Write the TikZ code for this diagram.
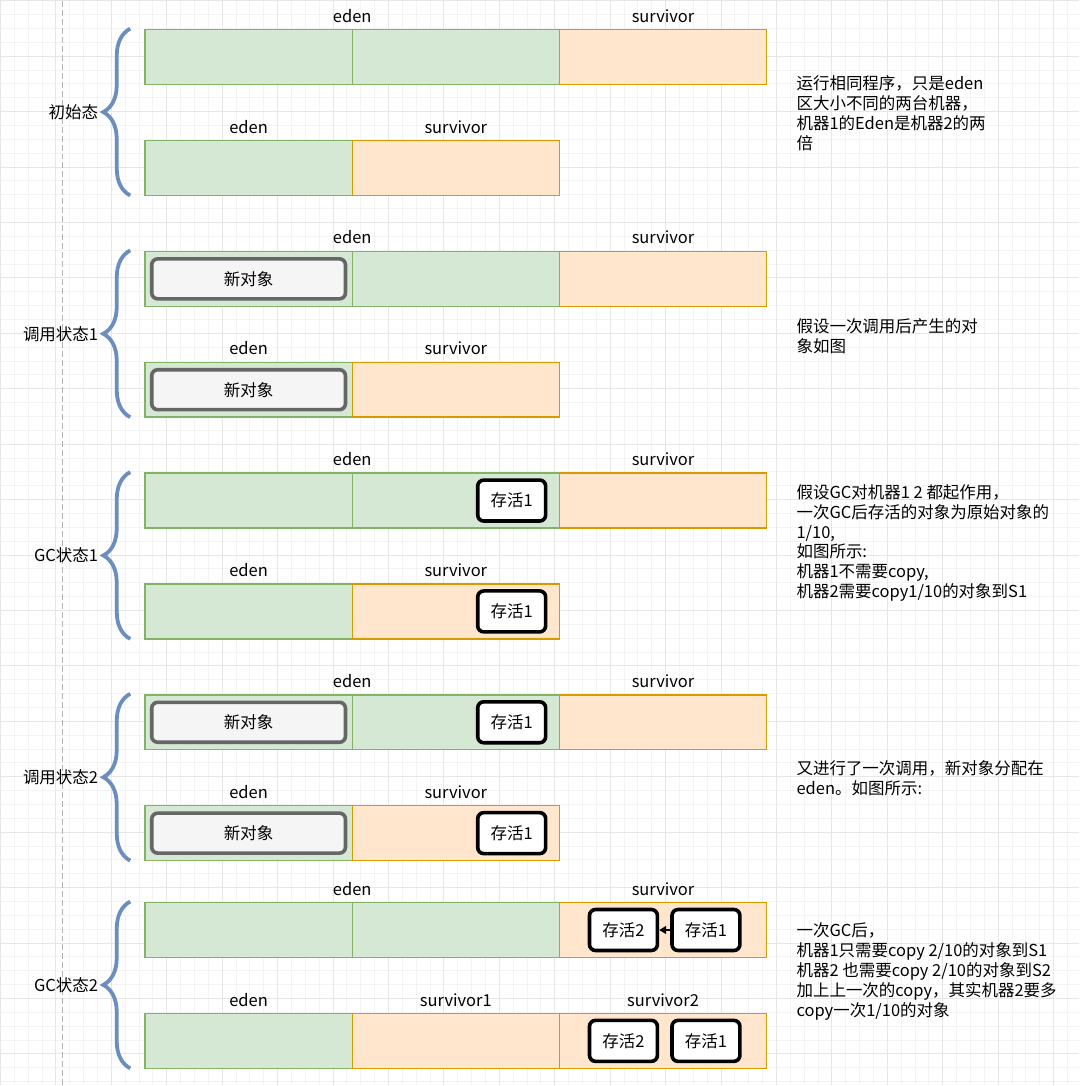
\documentclass[tikz,border=0pt]{standalone}
\usepackage{fontspec}
\setmainfont{Noto Sans CJK SC}
\usetikzlibrary{positioning,arrows.meta,decorations.pathreplacing}

\definecolor{edenfill}{HTML}{D5E8D4}
\definecolor{edenline}{HTML}{82B366}
\definecolor{survfill}{HTML}{FFE6CC}
\definecolor{survline}{HTML}{D79B00}
\definecolor{bracecol}{HTML}{6C8EBF}
\definecolor{objfill}{HTML}{F5F5F5}
\definecolor{objline}{HTML}{666666}
\definecolor{gridminor}{HTML}{F3F3F3}
\definecolor{gridmajor}{HTML}{E6E6E6}

\tikzset{
  cell/.style={draw, line width=1.4pt, minimum width=207.5pt, minimum height=55pt, inner sep=0pt, outer sep=0pt},
  eden/.style={cell, fill=edenfill, draw=edenline},
  surv/.style={cell, fill=survfill, draw=survline},
  newobj/.style={draw=objline, fill=objfill, line width=3.6pt, rounded corners=6pt, minimum width=194pt, minimum height=40pt, inner sep=0pt},
  alive/.style={draw=black, fill=white, line width=3.6pt, rounded corners=6pt, minimum width=68pt, minimum height=41pt, inner sep=0pt},
  lbl/.style={inner sep=0pt},
  brace/.style={draw=bracecol, line width=3.8pt, decorate, decoration={brace, amplitude=27pt}},
  note/.style={anchor=west, align=left, inner sep=0pt}
}

\begin{document}
\begin{tikzpicture}[x=1pt, y=-1pt, font=\fontsize{16.5}{20}\selectfont]
  \fill[white] (0,0) rectangle (1080,1086);
  \draw[gridminor, line width=0.8pt, step=13.875pt] (0,0) grid (1080,1086);
  \draw[gridmajor, line width=0.8pt, step=55.5pt] (0,0) grid (1080,1086);
  \draw[gray!60, line width=1.4pt, dash pattern=on 6pt off 3pt] (62,0) -- (62,1086);
  \useasboundingbox (0,0) rectangle (1080,1086);

  \foreach \g/\y/\sname/\state in {1/29/survivor/初始态, 2/251/survivor/调用状态1, 3/473/survivor/GC状态1, 4/695/survivor/调用状态2, 5/903/survivor1/GC状态2}{
    % machine 1
    \node[eden] (g\g-ta) at (248.5,\y+27.5) {};
    \node[eden] (g\g-tb) at (456,\y+27.5) {};
    \node[surv] (g\g-ts) at (663.5,\y+27.5) {};
    \node[lbl, above=7pt of g\g-ta.north east] (g\g-tl1) {eden};
    \node[lbl, above=7pt of g\g-ts.north] (g\g-tl2) {survivor};
    % machine 2
    \node[eden] (g\g-ba) at (248.5,\y+138.5) {};
    \node[surv] (g\g-bs) at (456,\y+138.5) {};
    \node[lbl, above=7pt of g\g-ba.north] (g\g-bl1) {eden};
    \node[lbl, above=7pt of g\g-bs.north] (g\g-bl2) {\sname};
    % brace + state
    \draw[brace] (130,\y+166) -- (130,\y-1);
    \coordinate (tip\g) at (103,\y+82.5);
    \node[lbl, left=5pt of tip\g] (st\g) {\state};
  }

  % objects
  \node[newobj] (g2-new1) at (g2-ta) {新对象};
  \node[newobj] (g2-new2) at (g2-ba) {新对象};
  \node[alive, left=12pt of g3-tb.east] (g3-live1) {存活1};
  \node[alive, left=12pt of g3-bs.east] (g3-live2) {存活1};
  \node[newobj] (g4-new1) at (g4-ta) {新对象};
  \node[newobj] (g4-new2) at (g4-ba) {新对象};
  \node[alive, left=12pt of g4-tb.east] (g4-live1) {存活1};
  \node[alive, left=12pt of g4-bs.east] (g4-live2) {存活1};

  \node[surv] (g5-bs2) at (663.5,1041.5) {};
  \node[lbl, above=7pt of g5-bs2.north] (g5-bl3) {survivor2};
  \node[alive, left=25pt of g5-ts.east] (g5-live1) {存活1};
  \node[alive, left=11pt of g5-live1] (g5-live2) {存活2};
  \node[alive, left=25pt of g5-bs2.east] (g5-live3) {存活1};
  \node[alive, left=11pt of g5-live3] (g5-live4) {存活2};
  \draw[line width=1.4pt, -{Triangle[length=7pt,width=8pt]}] (g5-live1) -- (g5-live2);

  % notes
  \node[note] (n1) at (797,113) {运行相同程序，只是eden\\区大小不同的两台机器，\\机器1的Eden是机器2的两\\倍};
  \node[note] (n2) at (797,336) {假设一次调用后产生的对\\象如图};
  \node[note] (n3) at (797,543) {假设GC对机器1 2 都起作用，\\一次GC后存活的对象为原始对象的\\1/10,\\如图所示:\\机器1不需要copy,\\机器2需要copy1/10的对象到S1};
  \node[note] (n4) at (797,779) {又进行了一次调用，新对象分配在\\eden。如图所示:};
  \node[note] (n5) at (797,972) {一次GC后，\\机器1只需要copy 2/10的对象到S1\\机器2 也需要copy 2/10的对象到S2\\加上上一次的copy，其实机器2要多\\copy一次1/10的对象};
\end{tikzpicture}
\end{document}
